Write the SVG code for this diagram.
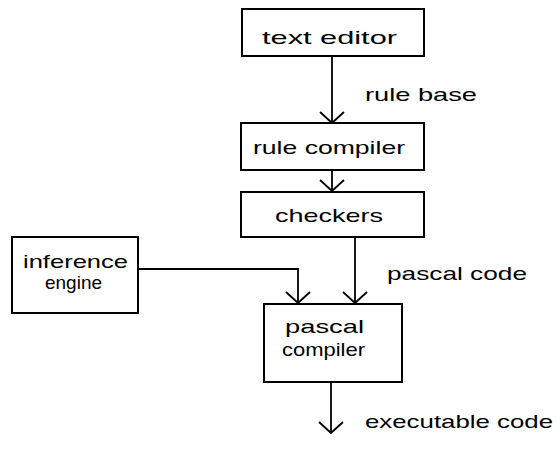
<svg xmlns="http://www.w3.org/2000/svg" width="560" height="454" viewBox="0 0 560 454">
  <style>
    .box { fill: #ffffff; stroke: #000000; stroke-width: 2; }
    .wire { fill: none; stroke: #000000; stroke-width: 1.8; }
    .head { fill: none; stroke: #000000; stroke-width: 1.8; stroke-linejoin: miter; }
    text { font-family: "Liberation Sans", "DejaVu Sans", sans-serif; font-size: 19px; fill: #000000; }
  </style>
  <defs>
    <!-- open V arrowhead, tip at origin, pointing down -->
    <path id="vhead" class="head" d="M -12 -11 L 0 0 L 12 -11"/>
  </defs>
  <rect width="560" height="454" fill="#ffffff"/>

  <g id="connectors">
    <line class="wire" x1="332" y1="56" x2="332" y2="123"/>
    <use href="#vhead" x="332" y="123"/>
    <line class="wire" x1="332" y1="170" x2="332" y2="191"/>
    <use href="#vhead" x="332" y="191"/>
    <line class="wire" x1="355" y1="237" x2="355" y2="303"/>
    <use href="#vhead" x="355" y="303"/>
    <polyline class="wire" points="138,269 298,269 298,303"/>
    <use href="#vhead" x="298" y="303"/>
    <line class="wire" x1="331" y1="382" x2="331" y2="433"/>
    <use href="#vhead" x="331" y="433"/>
    <text x="365" y="101" textLength="112" lengthAdjust="spacingAndGlyphs">rule base</text>
    <text x="387" y="280" textLength="140" lengthAdjust="spacingAndGlyphs">pascal code</text>
    <text x="365" y="428" textLength="188" lengthAdjust="spacingAndGlyphs">executable code</text>
  </g>

  <g id="text-editor">
    <rect class="box" x="242" y="9" width="182" height="47"/>
    <text x="262" y="44" textLength="135" lengthAdjust="spacingAndGlyphs">text editor</text>
  </g>

  <g id="rule-compiler">
    <rect class="box" x="241" y="123" width="183" height="47"/>
    <text x="253" y="154" textLength="152" lengthAdjust="spacingAndGlyphs">rule compiler</text>
  </g>

  <g id="checkers">
    <rect class="box" x="241" y="192" width="183" height="45"/>
    <text x="275" y="222" textLength="108" lengthAdjust="spacingAndGlyphs">checkers</text>
  </g>

  <g id="inference-engine">
    <rect class="box" x="12" y="237" width="126" height="76"/>
    <text x="23" y="268" textLength="105" lengthAdjust="spacingAndGlyphs">inference</text>
    <text x="45" y="289" textLength="57" lengthAdjust="spacingAndGlyphs">engine</text>
  </g>

  <g id="pascal-compiler">
    <rect class="box" x="264" y="304" width="138" height="78"/>
    <text x="285" y="333" textLength="79" lengthAdjust="spacingAndGlyphs">pascal</text>
    <text x="282" y="356" textLength="83" lengthAdjust="spacingAndGlyphs">compiler</text>
  </g>
</svg>
